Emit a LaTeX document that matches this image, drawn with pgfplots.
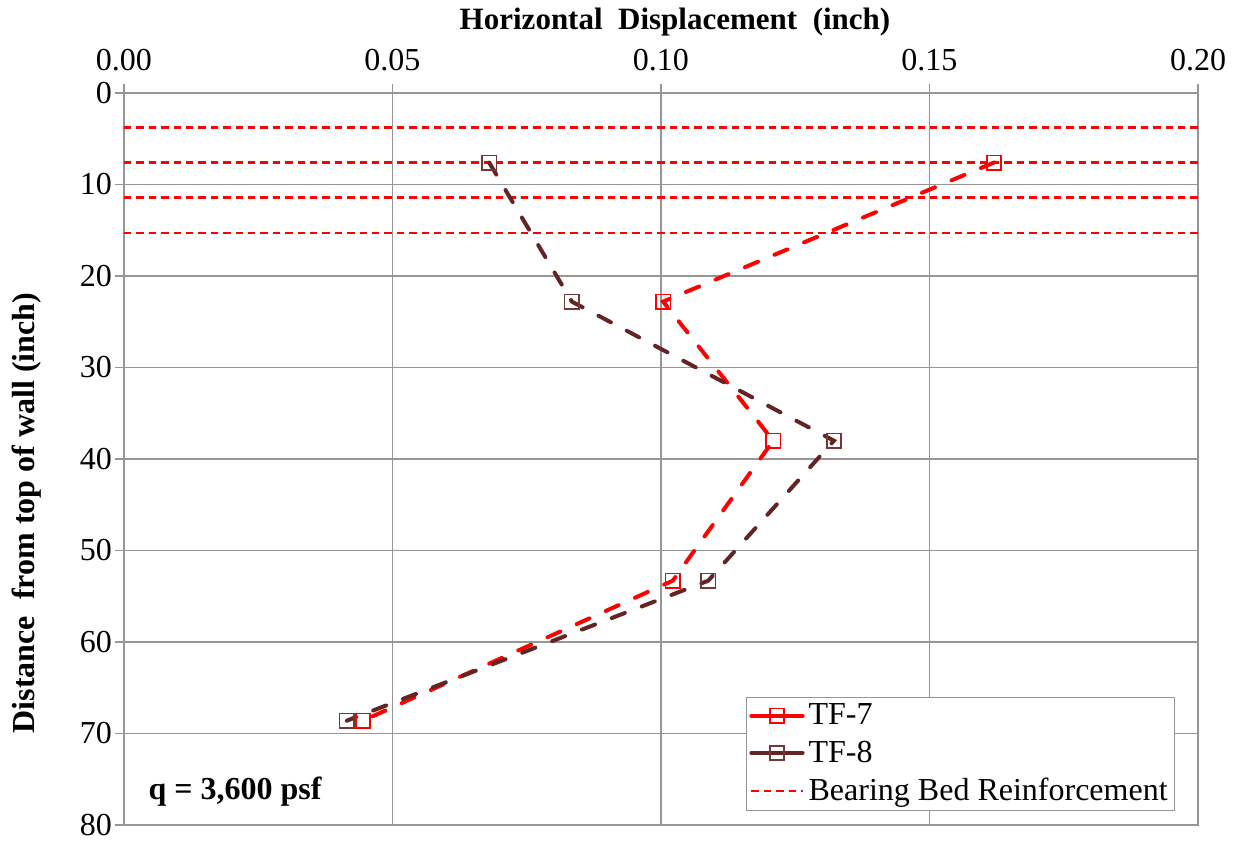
\documentclass[border=0pt]{standalone}
\usepackage{fontspec}
\setmainfont{Liberation Serif}
\usepackage{pgfplots}
\pgfplotsset{compat=1.18}
\definecolor{tfred}{RGB}{255,0,0}
\definecolor{tfbrown}{RGB}{99,37,35}
\definecolor{tfbrownmark}{RGB}{120,55,52}
\definecolor{gridgray}{RGB}{150,150,150}
\pgfplotsset{
  tfleg/.style={legend image code/.code={\draw[mark repeat=2,mark phase=2,##1,solid] plot coordinates {(0cm,0cm) (0.45cm,0cm) (0.9cm,0cm)};}},
  bbleg/.style={legend image code/.code={\draw[##1] (0cm,0cm) -- (0.9cm,0cm);}},
  bbline/.style={tfred, line width=1.4pt, dash pattern=on 3.7pt off 2.5pt},
}
\begin{document}
\begin{tikzpicture}
\begin{axis}[
  scale only axis, width=537pt, height=366pt,
  xmin=0, xmax=0.2, ymin=0, ymax=80, y dir=reverse,
  xtick={0,0.05,0.1,0.15,0.2}, ytick={0,10,20,30,40,50,60,70,80},
  xtick pos=right, xticklabel pos=right, ytick pos=left,
  tick align=outside, major tick length=4.5pt,
  grid=major, grid style={gridgray, line width=0.6pt},
  axis line style={gridgray, line width=0.7pt},
  tick style={gridgray, line width=0.6pt},
  ticklabel style={font=\fontsize{16}{19}\selectfont, text=black},
  /pgf/number format/assume math mode=true,
  xticklabel style={yshift=3pt, /pgf/number format/.cd, fixed, fixed zerofill, precision=2},
  yticklabel style={xshift=2pt},
  xlabel={\textbf{Horizontal\ \ Displacement\ \ (inch)}},
  ylabel={\textbf{Distance\ \ from top of wall (inch)}},
  xlabel style={font=\fontsize{15.5}{18}\selectfont, yshift=-0.5pt, xshift=7pt},
  ylabel style={font=\fontsize{16}{19}\selectfont, yshift=12.5pt, xshift=-27pt},
  legend style={at={(0.9786,0.019)}, anchor=south east, draw=gridgray, fill=white,
    font=\fontsize{16}{19}\selectfont, cells={anchor=west}, inner sep=1.5pt, row sep=2.5pt},
]
% Bearing bed reinforcement lines
\addplot[bbline, forget plot] coordinates {(0,3.8) (0.2,3.8)};
\addplot[bbline, forget plot] coordinates {(0,7.6) (0.2,7.6)};
\addplot[bbline, forget plot] coordinates {(0,11.45) (0.2,11.45)};
\addplot[bbline, forget plot] coordinates {(0,15.3) (0.2,15.3)};
% TF-7
\addplot[tfred, line width=2pt, line cap=round, dash pattern=on 7pt off 9pt,
  mark=square, mark size=3.6pt, mark options={solid, draw=tfred, line width=0.8pt, line cap=butt}, tfleg]
coordinates {(0.162,7.6) (0.1004,22.8) (0.1209,38.0) (0.1022,53.3) (0.0445,68.6)};
\addlegendentry{TF-7}
% TF-8
\addplot[tfbrown, line width=2pt, line cap=round, dash pattern=on 7pt off 9pt,
  mark=square, mark size=3.6pt, mark options={solid, draw=tfbrownmark, line width=0.8pt, line cap=butt}, tfleg]
coordinates {(0.068,7.6) (0.0834,22.8) (0.1322,38.0) (0.1088,53.3) (0.0415,68.6)};
\addlegendentry{TF-8}
\addlegendimage{bbline, line width=1.1pt, bbleg}
\addlegendentry{Bearing Bed Reinforcement}
\node[anchor=west, font=\fontsize{16}{19}\selectfont\bfseries, inner sep=0pt] at (axis cs:0.0045,76.4) {q = 3,600 psf};
\end{axis}
\pgfresetboundingbox
\path[use as bounding box] ([shift={(-62pt,-8pt)}]current axis.south west) rectangle ([shift={(20.5pt,46.5pt)}]current axis.north east);
\end{tikzpicture}
\end{document}
